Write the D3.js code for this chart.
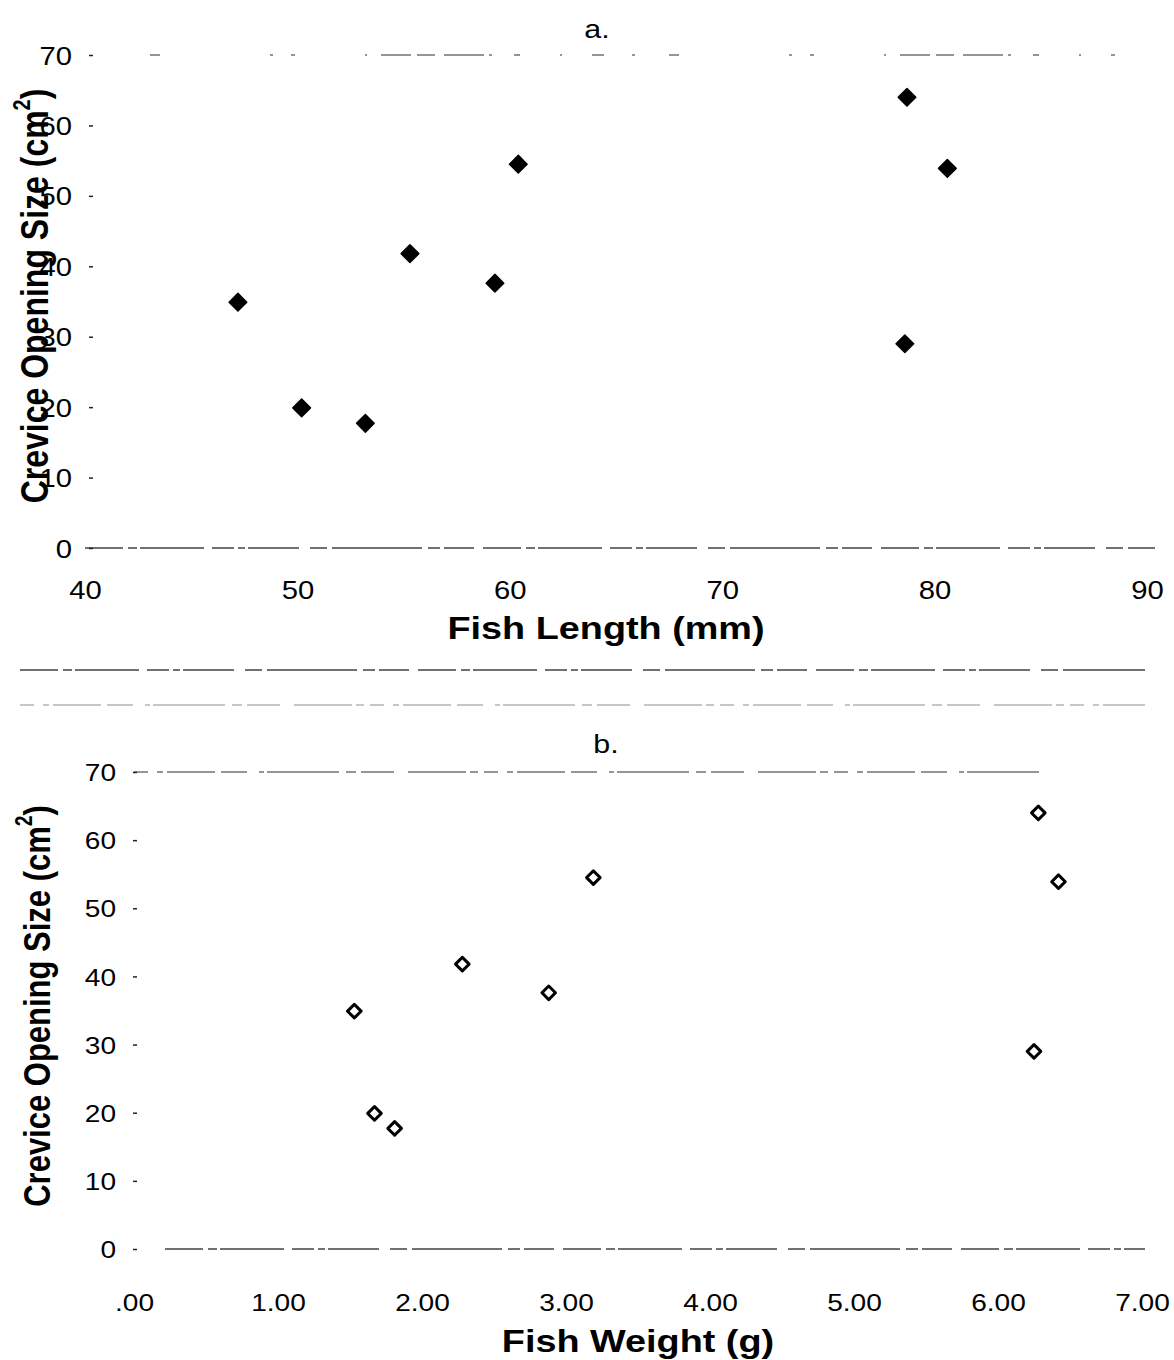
<!DOCTYPE html>
<html>
<head>
<meta charset="utf-8">
<script src="https://cdn.jsdelivr.net/npm/d3@7"></script>
<style>
  html, body { margin: 0; padding: 0; background: #fff; }
  svg { display: block; }
  text { font-family: "Liberation Sans", Arial, sans-serif; fill: #000; }
</style>
</head>
<body>
<script>
// Crevice opening size chosen by fish, against fish length (a) and weight (b)
const fishLength  = [47.2, 50.2, 53.2, 55.3, 59.3, 60.4, 78.7, 80.6, 78.6];
const fishWeight  = [1.53, 1.67, 1.81, 2.28, 2.88, 3.19, 6.28, 6.42, 6.25];
const openingSize = [34.9, 19.9, 17.7, 41.8, 37.6, 54.5, 64.0, 53.9, 29.0];

const sizeTicks   = [0, 10, 20, 30, 40, 50, 60, 70];
const lengthTicks = [40, 50, 60, 70, 80, 90];
const weightTicks = [0, 1, 2, 3, 4, 5, 6, 7];
const weightTickLabels = [".00", "1.00", "2.00", "3.00", "4.00", "5.00", "6.00", "7.00"];

const W = 1174, H = 1360;
const SX = 1.17; // horizontal stretch of the printed lettering

const svg = d3.select("body").append("svg")
  .attr("width", W).attr("height", H);

// photocopied rules break up into uneven dashes
const dashA = "38 5 9 3 64 8 22 4 7 3 51 11 17 5 90 6 12 4 30 9";
const dashB = "14 9 6 4 48 6 26 12 5 3 72 7 10 5 33 14 58 4 8 6";
const dashSparse = "10 110 3 18 4 70 2 14 30 6 18 9 40 5 3 22 6 40 2 30 12 28 3 34";
function brokenRule(x0, x1, y, dash, color, op, w) {
  svg.append("line")
    .attr("x1", x0).attr("x2", x1).attr("y1", y).attr("y2", y)
    .attr("stroke", color).attr("stroke-width", w)
    .attr("stroke-dasharray", dash).attr("opacity", op);
}

function panel(cfg) {
  const x = d3.scaleLinear().domain(cfg.xDomain).range(cfg.xRange);
  const y = d3.scaleLinear().domain([0, 70]).range(cfg.yRange);

  // top and bottom rules
  brokenRule(cfg.topRule[0], cfg.topRule[1], y(70), cfg.topDash, "#444", 0.75, 1.3);
  brokenRule(cfg.baseRule[0], cfg.baseRule[1], y(0), dashA, "#222", 0.85, 1.3);

  // left axis: only small tick dashes and numbers
  const yAxis = svg.append("g")
    .attr("transform", `translate(${cfg.yAxisX},0)`)
    .call(d3.axisLeft(y).tickValues(sizeTicks).tickSize(4).tickPadding(0).tickFormat(d3.format("d")));
  yAxis.select(".domain").remove();
  yAxis.selectAll(".tick line").attr("stroke", "#222").attr("stroke-width", 1.5);
  yAxis.selectAll(".tick text")
    .attr("x", null).attr("dy", "0.36em")
    .attr("text-anchor", "end")
    .attr("transform", `translate(${-cfg.yLabelGap},0) scale(${SX},1)`)
    .style("font-size", cfg.tickFont + "px");

  // bottom axis: numbers only
  const xAxis = svg.append("g")
    .attr("transform", `translate(0,${cfg.xLabelBase})`)
    .call(d3.axisBottom(x).tickValues(cfg.xTicks).tickSize(0).tickPadding(0)
      .tickFormat((d, i) => cfg.xTickLabels[i]));
  xAxis.select(".domain").remove();
  xAxis.selectAll(".tick text")
    .attr("y", 0).attr("dy", 0)
    .attr("transform", `scale(${SX},1)`)
    .style("font-size", cfg.tickFont + "px");

  // panel letter
  svg.append("text")
    .attr("transform", `translate(${cfg.letterPos[0]},${cfg.letterPos[1]}) scale(${SX},1)`)
    .attr("text-anchor", "middle")
    .style("font-size", "26px")
    .text(cfg.letter);

  // axis titles
  svg.append("text")
    .attr("transform", `translate(${cfg.xTitlePos[0]},${cfg.xTitlePos[1]}) scale(1.22,1)`)
    .attr("text-anchor", "middle")
    .style("font-size", "31px").style("font-weight", "bold")
    .text(cfg.xTitle);

  const yt = svg.append("text")
    .attr("transform", `translate(${cfg.yTitlePos[0]},${cfg.yTitlePos[1]}) scale(1.22,1) rotate(-90)`)
    .attr("text-anchor", "middle")
    .attr("dominant-baseline", "central")
    .style("font-size", cfg.yTitleFont + "px").style("font-weight", "bold");
  yt.append("tspan").text("Crevice Opening Size (cm");
  yt.append("tspan").attr("baseline-shift", "super").style("font-size", "0.62em").text("2");
  yt.append("tspan").text(")");

  // markers
  const pts = cfg.xs.map((v, i) => [v, openingSize[i]]);
  svg.append("g").selectAll("path")
    .data(pts)
    .join("path")
    .attr("transform", d => `translate(${x(d[0])},${y(d[1])}) rotate(45)`)
    .attr("d", d3.symbol(d3.symbolSquare, cfg.markerArea)())
    .attr("fill", cfg.filled ? "#000" : "#fff")
    .attr("stroke", "#000")
    .attr("stroke-width", cfg.filled ? 1.5 : 3)
    .attr("stroke-linejoin", "round");
}

panel({
  xDomain: [40, 90], xRange: [85, 1147], yRange: [548, 55],
  xTicks: lengthTicks, xTickLabels: lengthTicks.map(String),
  xs: fishLength, filled: true, markerArea: 155,
  topRule: [150, 1115], baseRule: [85, 1155], topDash: dashSparse,
  yAxisX: 93, yLabelGap: 21, tickFont: 25, xLabelBase: 599,
  letter: "a.", letterPos: [597, 38],
  xTitle: "Fish Length (mm)", xTitlePos: [606, 639],
  yTitlePos: [35, 296], yTitleFont: 32
});

// rules separating the two panels
svg.append("line").attr("x1", 20).attr("x2", 1145).attr("y1", 670).attr("y2", 670)
  .attr("stroke", "#222").attr("stroke-width", 1.4).attr("opacity", 0.85)
  .attr("stroke-dasharray", dashA);
svg.append("line").attr("x1", 20).attr("x2", 1145).attr("y1", 705).attr("y2", 705)
  .attr("stroke", "#555").attr("stroke-width", 1.2).attr("opacity", 0.65)
  .attr("stroke-dasharray", dashB);

panel({
  xDomain: [0, 7], xRange: [134, 1142], yRange: [1249, 772],
  xTicks: weightTicks, xTickLabels: weightTickLabels,
  xs: fishWeight, filled: false, markerArea: 92,
  topRule: [134, 1045], baseRule: [165, 1145], topDash: dashB,
  yAxisX: 137, yLabelGap: 21, tickFont: 24, xLabelBase: 1311,
  letter: "b.", letterPos: [606, 753],
  xTitle: "Fish Weight (g)", xTitlePos: [638, 1352],
  yTitlePos: [37, 1006], yTitleFont: 31
});
</script>
</body>
</html>
